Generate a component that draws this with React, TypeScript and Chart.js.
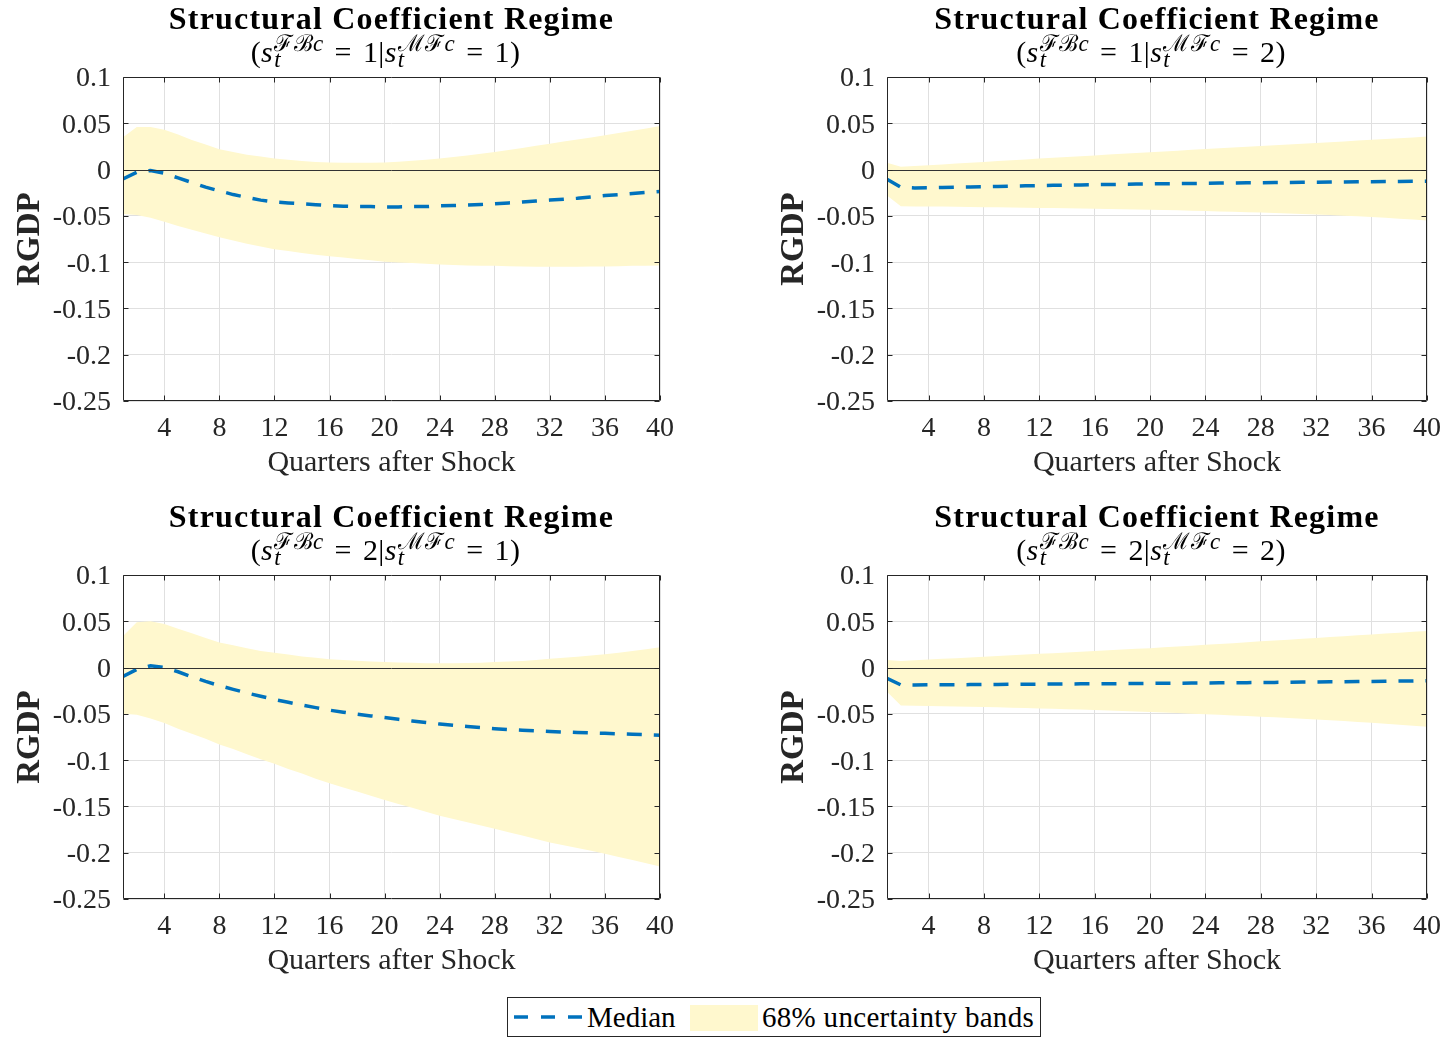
import React, { useEffect, useRef } from 'react';
import { Chart, registerables } from 'chart.js';

Chart.register(...registerables);

// ---------------- data ----------------
const QUARTERS = [1, 2, 3, 4, 5, 6, 7, 8, 9, 10, 11, 12, 13, 14, 15, 16, 17, 18, 19, 20,
  21, 22, 23, 24, 25, 26, 27, 28, 29, 30, 31, 32, 33, 34, 35, 36, 37, 38, 39, 40];
const X_TICKS = [4, 8, 12, 16, 20, 24, 28, 32, 36, 40];
const Y_TICKS = [-0.25, -0.2, -0.15, -0.1, -0.05, 0, 0.05, 0.1];
const Y_TICK_LABELS = ['-0.25', '-0.2', '-0.15', '-0.1', '-0.05', '0', '0.05', '0.1'];
const X_TITLE = 'Quarters after Shock';
const Y_TITLE = 'RGDP';
const PANEL_TITLE = 'Structural Coefficient Regime';
const FBC_REGIME = [1, 1, 2, 2];
const MFC_REGIME = [1, 2, 1, 2];
const LEGEND_MEDIAN = 'Median';
const LEGEND_BAND = '68% uncertainty bands';

// panel 1: s_FBc = 1 | s_MFc = 1
const P1_MEDIAN = [-0.010, -0.003, -0.001, -0.004, -0.009, -0.014, -0.019, -0.023, -0.027, -0.030,
  -0.033, -0.035, -0.036, -0.037, -0.038, -0.039, -0.0395, -0.040, -0.040, -0.0403,
  -0.0403, -0.040, -0.040, -0.039, -0.0388, -0.0383, -0.0377, -0.037, -0.036, -0.035,
  -0.034, -0.033, -0.032, -0.031, -0.0295, -0.028, -0.027, -0.0258, -0.0247, -0.0237];
const P1_UPPER = [0.035, 0.046, 0.046, 0.043, 0.038, 0.032, 0.027, 0.022, 0.019, 0.016,
  0.014, 0.012, 0.0105, 0.0093, 0.0083, 0.0077, 0.0074, 0.0073, 0.0074, 0.0077,
  0.0085, 0.0095, 0.0107, 0.012, 0.0136, 0.0153, 0.0171, 0.019, 0.0211, 0.0233,
  0.0256, 0.028, 0.0302, 0.0324, 0.0347, 0.037, 0.0395, 0.042, 0.0445, 0.047];
const P1_LOWER = [-0.048, -0.049, -0.052, -0.0565, -0.061, -0.065, -0.069, -0.073, -0.0765, -0.080,
  -0.083, -0.086, -0.088, -0.090, -0.092, -0.0935, -0.095, -0.0965, -0.098, -0.0995,
  -0.1003, -0.101, -0.1018, -0.1025, -0.103, -0.1035, -0.104, -0.104, -0.1045, -0.1047,
  -0.105, -0.105, -0.105, -0.105, -0.1048, -0.1047, -0.1044, -0.104, -0.1038, -0.1036];

// panel 2: s_FBc = 1 | s_MFc = 2
const P2_MEDIAN = [-0.0104, -0.019, -0.0198, -0.0197, -0.0194, -0.0191, -0.0188, -0.0185, -0.0182, -0.0179,
  -0.0176, -0.0173, -0.0170, -0.0168, -0.0166, -0.0163, -0.0161, -0.0159, -0.0157, -0.0155,
  -0.0153, -0.0151, -0.0150, -0.0148, -0.0146, -0.0145, -0.0143, -0.0142, -0.0140, -0.0139,
  -0.0137, -0.0136, -0.0135, -0.0133, -0.0132, -0.0131, -0.0129, -0.0128, -0.0127, -0.0126];
const P2_UPPER = [0.0075, 0.003, 0.0038, 0.0047, 0.0056, 0.0065, 0.0074, 0.0083, 0.0092, 0.0101,
  0.011, 0.0119, 0.0127, 0.0136, 0.0145, 0.0153, 0.0162, 0.017, 0.0179, 0.0187,
  0.0196, 0.0204, 0.0213, 0.0221, 0.0229, 0.0238, 0.0246, 0.0254, 0.0263, 0.0271,
  0.0279, 0.0288, 0.0296, 0.0304, 0.0313, 0.0321, 0.033, 0.0338, 0.0347, 0.0356];
const P2_LOWER = [-0.028, -0.0395, -0.0398, -0.0399, -0.0400, -0.0402, -0.0404, -0.0406, -0.0408, -0.041,
  -0.0412, -0.0414, -0.0416, -0.0418, -0.042, -0.0423, -0.0425, -0.0428, -0.0431, -0.0434,
  -0.0437, -0.044, -0.0444, -0.0448, -0.0452, -0.0456, -0.046, -0.0465, -0.0469, -0.0474,
  -0.0479, -0.0484, -0.0492, -0.0498, -0.0505, -0.0512, -0.0521, -0.053, -0.054, -0.055];

// panel 3: s_FBc = 2 | s_MFc = 1
const P3_MEDIAN = [-0.0097, -0.002, 0.002, 0.0, -0.0045, -0.010, -0.015, -0.0195, -0.0235, -0.0275,
  -0.031, -0.0345, -0.0375, -0.0405, -0.0433, -0.046, -0.0482, -0.0503, -0.0522, -0.054,
  -0.0559, -0.0577, -0.0594, -0.061, -0.0624, -0.0637, -0.0649, -0.066, -0.0669, -0.0677,
  -0.0684, -0.069, -0.0696, -0.0701, -0.0706, -0.071, -0.0715, -0.072, -0.0725, -0.073];
const P3_UPPER = [0.034, 0.049, 0.050, 0.047, 0.042, 0.037, 0.032, 0.027, 0.024, 0.021,
  0.018, 0.016, 0.014, 0.012, 0.0105, 0.009, 0.0082, 0.0074, 0.0066, 0.006,
  0.0055, 0.0051, 0.0048, 0.0047, 0.0047, 0.0049, 0.0052, 0.006, 0.0066, 0.0072,
  0.0082, 0.0094, 0.0106, 0.0118, 0.013, 0.0144, 0.016, 0.0178, 0.0198, 0.022];
const P3_LOWER = [-0.050, -0.051, -0.055, -0.060, -0.066, -0.0715, -0.077, -0.083, -0.088, -0.0935,
  -0.099, -0.104, -0.1095, -0.1145, -0.12, -0.125, -0.1295, -0.134, -0.1385, -0.143,
  -0.1473, -0.1515, -0.1557, -0.160, -0.1635, -0.167, -0.1705, -0.174, -0.1778, -0.1815,
  -0.1853, -0.189, -0.192, -0.195, -0.198, -0.201, -0.2045, -0.208, -0.2115, -0.215];

// panel 4: s_FBc = 2 | s_MFc = 2
const P4_MEDIAN = [-0.0115, -0.0187, -0.0188, -0.0186, -0.0186, -0.0185, -0.0184, -0.0183, -0.0182, -0.0181,
  -0.018, -0.0179, -0.0178, -0.0177, -0.0176, -0.0175, -0.0174, -0.0173, -0.0172, -0.0171,
  -0.017, -0.0169, -0.0167, -0.0166, -0.0165, -0.0164, -0.0163, -0.0161, -0.016, -0.0159,
  -0.0157, -0.0156, -0.0154, -0.0153, -0.0151, -0.015, -0.0148, -0.0146, -0.0144, -0.0142];
const P4_UPPER = [0.0083, 0.0072, 0.0079, 0.0087, 0.0094, 0.0102, 0.0109, 0.0117, 0.0125, 0.0132,
  0.014, 0.0148, 0.0156, 0.0163, 0.0171, 0.0179, 0.0187, 0.0195, 0.0202, 0.021,
  0.0219, 0.0228, 0.0237, 0.0246, 0.0255, 0.0264, 0.0273, 0.0283, 0.0292, 0.0301,
  0.031, 0.032, 0.0329, 0.0339, 0.0348, 0.0357, 0.0367, 0.0377, 0.0386, 0.0396];
const P4_LOWER = [-0.026, -0.041, -0.0412, -0.0414, -0.0417, -0.042, -0.0423, -0.0426, -0.0429, -0.0433,
  -0.0437, -0.0441, -0.0445, -0.0449, -0.0454, -0.0459, -0.0464, -0.0469, -0.0475, -0.048,
  -0.0486, -0.0492, -0.0498, -0.0504, -0.051, -0.0517, -0.0524, -0.0531, -0.0538, -0.0545,
  -0.0552, -0.056, -0.057, -0.0578, -0.0587, -0.0597, -0.0607, -0.0618, -0.0629, -0.064];

const MEDIANS = [P1_MEDIAN, P2_MEDIAN, P3_MEDIAN, P4_MEDIAN];
const UPPERS = [P1_UPPER, P2_UPPER, P3_UPPER, P4_UPPER];
const LOWERS = [P1_LOWER, P2_LOWER, P3_LOWER, P4_LOWER];

// ---------------- style ----------------
const FONT = "'Liberation Serif', 'Times New Roman', serif";
const MEDIAN_COLOR = '#0072BD';
const BAND_COLOR = 'rgb(255, 248, 206)';
const AXIS_COLOR = '#262626';
const GRID_COLOR = '#e0e0e0';

// layout (page pixels)
const PANEL_LEFTS = [0, 764, 0, 764];
const PANEL_TOPS = [0, 0, 498, 498];
const PANEL_WIDTHS = [680, 683, 680, 683];
const CANVAS_H = 490;
const Y_AXIS_W = 123;
const X_AXIS_H = 81;
const PAD_TOP = 77;
const PAD_BOTTOM = 8;
const PAD_RIGHT = 20;

const framePlugin = {
  id: 'matlabFrame',
  afterDatasetsDraw(chart: any) {
    const { ctx, chartArea: a, scales } = chart;
    const y0 = Math.round(scales.y.getPixelForValue(0)) + 0.5;
    ctx.save();
    ctx.strokeStyle = '#333333';
    ctx.lineWidth = 1;
    ctx.beginPath();
    ctx.moveTo(a.left, y0);
    ctx.lineTo(a.right, y0);
    ctx.stroke();
    ctx.restore();
  },
  afterDraw(chart: any) {
    const { ctx, chartArea: a, scales } = chart;
    const L = Math.round(a.left) + 0.5;
    const R = Math.round(a.right) - 0.5;
    const T = Math.round(a.top) + 0.5;
    const B = Math.round(a.bottom) - 0.5;
    const tl = 5;
    ctx.save();
    ctx.strokeStyle = AXIS_COLOR;
    ctx.lineWidth = 1;
    ctx.beginPath();
    ctx.rect(L, T, R - L, B - T);
    for (const v of X_TICKS) {
      const px = Math.round(scales.x.getPixelForValue(v)) + 0.5;
      ctx.moveTo(px, B); ctx.lineTo(px, B - tl);
      ctx.moveTo(px, T); ctx.lineTo(px, T + tl);
    }
    for (const v of Y_TICKS) {
      const py = Math.round(scales.y.getPixelForValue(v)) + 0.5;
      ctx.moveTo(L, py); ctx.lineTo(L + tl, py);
      ctx.moveTo(R, py); ctx.lineTo(R - tl, py);
    }
    ctx.stroke();
    ctx.restore();
  },
};

function Panel({ idx }: { idx: number }) {
  const ref = useRef<HTMLCanvasElement | null>(null);
  useEffect(() => {
    if (!ref.current) return;
    const pts = (arr: number[]) => QUARTERS.map((q, i) => ({ x: q, y: arr[i] }));
    const chart = new Chart(ref.current, {
      type: 'line',
      data: {
        datasets: [
          {
            label: LEGEND_MEDIAN,
            data: pts(MEDIANS[idx]),
            borderColor: MEDIAN_COLOR,
            borderWidth: 3.5,
            borderDash: [15, 12],
            pointRadius: 0,
            fill: false,
            tension: 0,
          },
          {
            label: LEGEND_BAND,
            data: pts(UPPERS[idx]),
            borderColor: 'rgba(0,0,0,0)',
            borderWidth: 0,
            backgroundColor: BAND_COLOR,
            pointRadius: 0,
            fill: '+1',
            tension: 0,
          },
          {
            label: 'lower',
            data: pts(LOWERS[idx]),
            borderColor: 'rgba(0,0,0,0)',
            borderWidth: 0,
            pointRadius: 0,
            fill: false,
            tension: 0,
          },
        ],
      },
      options: {
        responsive: false,
        animation: false,
        events: [],
        layout: { padding: { top: PAD_TOP, right: PAD_RIGHT, bottom: PAD_BOTTOM, left: 0 } },
        plugins: { legend: { display: false }, tooltip: { enabled: false }, title: { display: false } },
        scales: {
          x: {
            type: 'linear',
            min: 1,
            max: 40,
            afterBuildTicks: (s: any) => { s.ticks = X_TICKS.map((v) => ({ value: v })); },
            afterFit: (s: any) => { s.height = X_AXIS_H; s.paddingLeft = 0; s.paddingRight = 0; },
            grid: { color: GRID_COLOR, drawTicks: false, lineWidth: 1 },
            border: { display: false },
            ticks: {
              autoSkip: false,
              maxRotation: 0,
              padding: 11,
              color: AXIS_COLOR,
              font: { family: FONT, size: 28 },
            },
            title: {
              display: true,
              text: X_TITLE,
              color: AXIS_COLOR,
              font: { family: FONT, size: 30 },
              padding: { top: 0, bottom: 1 },
            },
          },
          y: {
            type: 'linear',
            min: -0.25,
            max: 0.1,
            afterBuildTicks: (s: any) => { s.ticks = Y_TICKS.map((v) => ({ value: v })); },
            afterFit: (s: any) => { s.width = Y_AXIS_W; s.paddingTop = 0; s.paddingBottom = 0; },
            grid: { color: GRID_COLOR, drawTicks: false, lineWidth: 1 },
            border: { display: false },
            ticks: {
              padding: 12,
              labelOffset: 2,
              color: AXIS_COLOR,
              font: { family: FONT, size: 28 },
              callback: (_v: any, i: number) => Y_TICK_LABELS[i],
            },
            title: {
              display: true,
              text: Y_TITLE,
              color: AXIS_COLOR,
              font: { family: FONT, size: 33, weight: 'bold' },
              padding: { top: 11, bottom: 0 },
            },
          },
        },
      },
      plugins: [framePlugin],
    } as any);
    return () => chart.destroy();
  }, [idx]);
  return (
    <canvas
      ref={ref}
      width={PANEL_WIDTHS[idx]}
      height={CANVAS_H}
      style={{ position: 'absolute', left: PANEL_LEFTS[idx], top: PANEL_TOPS[idx] }}
    />
  );
}

function Regime({ script }: { script: string }) {
  return (
    <span
      style={{
        display: 'inline-flex',
        flexDirection: 'column',
        verticalAlign: 11,
        fontSize: 23,
        lineHeight: '16px',
        textAlign: 'left',
        marginLeft: 1,
      }}
    >
      <span>{script}<i>c</i></span>
      <span><i>t</i></span>
    </span>
  );
}

function Eq() {
  return <span style={{ margin: '0 11px' }}>=</span>;
}

function Title({ idx }: { idx: number }) {
  const plotLeft = PANEL_LEFTS[idx] + Y_AXIS_W;
  const plotW = PANEL_WIDTHS[idx] - PAD_RIGHT - Y_AXIS_W;
  return (
    <div
      style={{
        position: 'absolute',
        left: plotLeft - 40,
        width: plotW + 80,
        top: PANEL_TOPS[idx],
        textAlign: 'center',
        fontFamily: FONT,
        color: '#000',
        whiteSpace: 'nowrap',
      }}
    >
      <div style={{ fontWeight: 'bold', fontSize: 32, lineHeight: '36px', letterSpacing: 1.2 }}>{PANEL_TITLE}</div>
      <div style={{ fontSize: 30, lineHeight: '32px', height: 32, paddingRight: 12, letterSpacing: 0.4 }}>
        (<i>s</i><Regime script={'\u2131\u212C'} /><Eq />{FBC_REGIME[idx]}|<i>s</i><Regime script={'\u2133\u2131'} /><Eq />{MFC_REGIME[idx]})
      </div>
    </div>
  );
}

function Legend() {
  return (
    <div
      style={{
        position: 'absolute',
        left: 507,
        top: 997,
        width: 534,
        height: 40,
        border: `1px solid ${AXIS_COLOR}`,
        boxSizing: 'border-box',
        background: '#fff',
        fontFamily: FONT,
        fontSize: 29,
        color: '#000',
        whiteSpace: 'nowrap',
      }}
    >
      <svg style={{ position: 'absolute', left: 6, top: 0 }} width={70} height={38}>
        <line x1={0} y1={19} x2={69} y2={19} stroke={MEDIAN_COLOR} strokeWidth={3.5} strokeDasharray="14 13" />
      </svg>
      <span style={{ position: 'absolute', left: 79, top: 0, lineHeight: '38px' }}>{LEGEND_MEDIAN}</span>
      <div style={{ position: 'absolute', left: 182, top: 7, width: 68, height: 26, background: BAND_COLOR }} />
      <span style={{ position: 'absolute', left: 254, top: 0, lineHeight: '38px', letterSpacing: 0.3 }}>{LEGEND_BAND}</span>
    </div>
  );
}

export default function App() {
  return (
    <div style={{ position: 'absolute', left: 0, top: 0, width: 1448, height: 1039, background: '#fff', overflow: 'hidden' }}>
      {[0, 1, 2, 3].map((i) => <Panel key={`p${i}`} idx={i} />)}
      {[0, 1, 2, 3].map((i) => <Title key={`t${i}`} idx={i} />)}
      <Legend />
    </div>
  );
}
